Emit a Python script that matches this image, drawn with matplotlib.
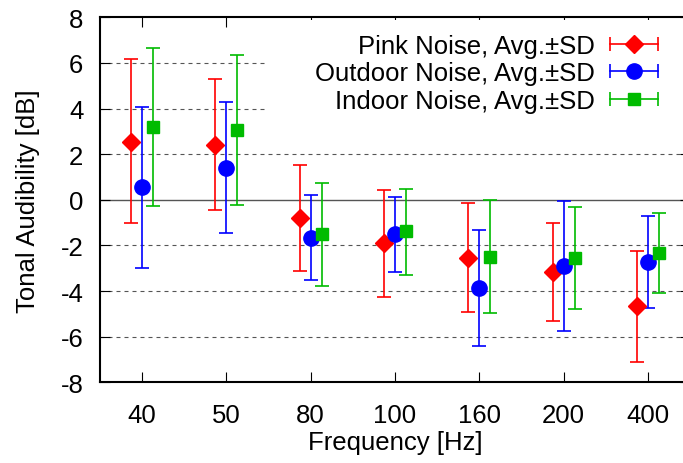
import numpy as np
import matplotlib
matplotlib.use("Agg")
from matplotlib import pyplot as plt
from matplotlib.lines import Line2D
from matplotlib.patches import Rectangle
from matplotlib.legend_handler import HandlerLine2D, HandlerTuple

FREQS = ["40", "50", "80", "100", "160", "200", "400"]

# mean, upper end and lower end of each bar
PINK_AVG = [2.55, 2.42, -0.80, -1.91, -2.54, -3.15, -4.64]
PINK_HI = [6.16, 5.30, 1.54, 0.43, -0.13, -1.00, -2.23]
PINK_LO = [-1.03, -0.45, -3.12, -4.25, -4.91, -5.30, -7.10]

OUT_AVG = [0.55, 1.39, -1.67, -1.51, -3.88, -2.90, -2.74]
OUT_HI = [4.08, 4.27, 0.21, 0.11, -1.31, -0.07, -0.72]
OUT_LO = [-2.98, -1.47, -3.50, -3.15, -6.42, -5.75, -4.75]

IN_AVG = [3.18, 3.06, -1.51, -1.37, -2.52, -2.57, -2.32]
IN_HI = [6.64, 6.36, 0.74, 0.49, 0.00, -0.30, -0.58]
IN_LO = [-0.26, -0.23, -3.77, -3.30, -4.98, -4.80, -4.09]

SERIES = [
    ("Pink Noise, Avg.\u00b1SD", PINK_AVG, PINK_HI, PINK_LO, "#ff0000", "D", 9, -0.13),
    ("Outdoor Noise, Avg.\u00b1SD", OUT_AVG, OUT_HI, OUT_LO, "#0000ff", "o", 11, 0.0),
    ("Indoor Noise, Avg.\u00b1SD", IN_AVG, IN_HI, IN_LO, "#00bb00", "s", 9, 0.13),
]

plt.rcParams["font.family"] = ["Liberation Sans", "DejaVu Sans"]
plt.rcParams["font.size"] = 18.5
plt.rcParams["axes.unicode_minus"] = False

fig = plt.figure(figsize=(6.83, 4.64), dpi=100)
ax = fig.add_axes([100 / 683, 1 - 383.3 / 464, 590 / 683, 365 / 464])

x = np.arange(1, len(FREQS) + 1)

# grid
for yv in [-6, -4, -2, 2, 4, 6]:
    ax.axhline(yv, color="#555555", lw=0.8, ls=(0, (3.6, 3.6)), zorder=1)
ax.axhline(0, color="#555555", lw=1.0, zorder=1)
# key background (gnuplot opaque key)
ax.add_patch(Rectangle((2.49, 3.2), 6, 4.7, facecolor="white", edgecolor="none", zorder=2))

handles = []
hmap = {}
for label, avg, hi, lo, col, mk, ms, off in SERIES:
    avg = np.array(avg)
    yerr = [avg - np.array(lo), np.array(hi) - avg]
    ax.errorbar(x + off, avg, yerr=yerr, fmt=mk, color=col, ms=ms, lw=1.2,
                capsize=5, capthick=1.2, zorder=3)
    caps = Line2D([], [], color=col, lw=1.2, marker="|", ms=10, mew=1.2)
    dot = Line2D([], [], color=col, ls="none", marker=mk, ms=ms)
    hmap[caps] = HandlerLine2D(numpoints=2, marker_pad=0)
    hmap[dot] = HandlerLine2D(numpoints=1)
    handles.append((caps, dot))
hmap[tuple] = HandlerTuple(ndivide=1)

leg = ax.legend(handles, [s[0] for s in SERIES], handler_map=hmap,
                loc="upper right", bbox_to_anchor=(658 / 683, 1 - 35 / 464),
                bbox_transform=fig.transFigure, frameon=False, markerfirst=False,
                handlelength=1.85, handletextpad=0.6, labelspacing=0.13,
                borderpad=0, borderaxespad=0)
for t in leg.get_texts():
    t.set_ha("right")
leg.set_zorder(4)

ax.set_xlim(0.5, 7.5)
ax.set_ylim(-8, 8)
ax.set_xticks(x)
ax.set_xticklabels(FREQS)
ax.set_yticks(np.arange(-8, 9, 2))
ax.tick_params(direction="in", length=7, width=0.8, top=True, right=True)
ax.tick_params(axis="x", pad=15)
ax.tick_params(axis="y", pad=12)
for sp in ax.spines.values():
    sp.set_linewidth(1.5)
    sp.set_zorder(5)

ax.set_xlabel("Frequency [Hz]")
ax.set_ylabel("Tonal Audibility [dB]")
ax.xaxis.set_label_coords(0.5, (383.3 - 431) / 365)
ax.yaxis.set_label_coords((40 - 100) / 590, 0.5)

fig.savefig("out.png", dpi=100)
